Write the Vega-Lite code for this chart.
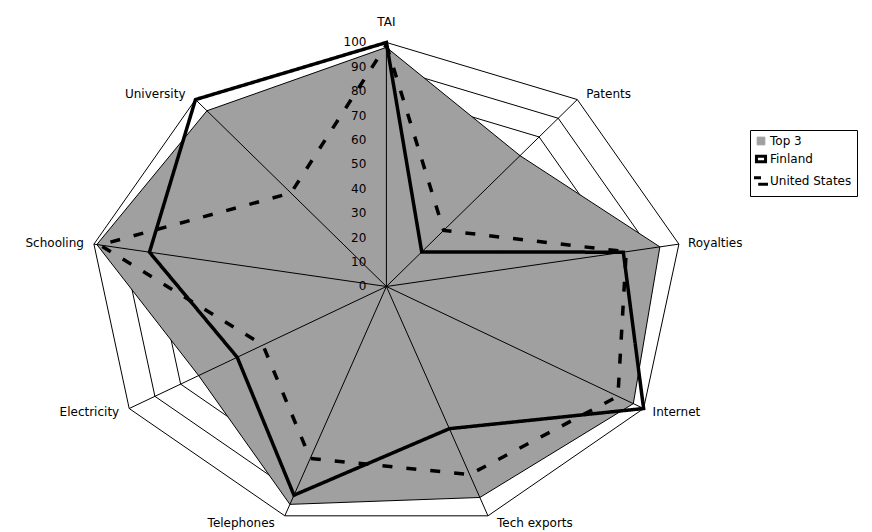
{
  "$schema": "https://vega.github.io/schema/vega-lite/v6.json",
  "width": 872,
  "height": 532,
  "autosize": "none",
  "padding": 0,
  "background": "white",
  "config": {
    "view": {"stroke": null},
    "font": "DejaVu Sans",
    "text": {"font": "DejaVu Sans", "fontSize": 12, "fill": "black"}
  },
  "datasets": {
    "scores": [
      {"series": "Top 3", "axis": "TAI", "i": 0, "value": 98},
      {"series": "Top 3", "axis": "Patents", "i": 1, "value": 70},
      {"series": "Top 3", "axis": "Royalties", "i": 2, "value": 93.5},
      {"series": "Top 3", "axis": "Internet", "i": 3, "value": 96},
      {"series": "Top 3", "axis": "Tech exports", "i": 4, "value": 92},
      {"series": "Top 3", "axis": "Telephones", "i": 5, "value": 95},
      {"series": "Top 3", "axis": "Electricity", "i": 6, "value": 73},
      {"series": "Top 3", "axis": "Schooling", "i": 7, "value": 99},
      {"series": "Top 3", "axis": "University", "i": 8, "value": 94},
      {"series": "Finland", "axis": "TAI", "i": 0, "value": 100},
      {"series": "Finland", "axis": "Patents", "i": 1, "value": 18.5},
      {"series": "Finland", "axis": "Royalties", "i": 2, "value": 81},
      {"series": "Finland", "axis": "Internet", "i": 3, "value": 100},
      {"series": "Finland", "axis": "Tech exports", "i": 4, "value": 62},
      {"series": "Finland", "axis": "Telephones", "i": 5, "value": 91},
      {"series": "Finland", "axis": "Electricity", "i": 6, "value": 58},
      {"series": "Finland", "axis": "Schooling", "i": 7, "value": 81},
      {"series": "Finland", "axis": "University", "i": 8, "value": 100},
      {"series": "United States", "axis": "TAI", "i": 0, "value": 99},
      {"series": "United States", "axis": "Patents", "i": 1, "value": 30},
      {"series": "United States", "axis": "Royalties", "i": 2, "value": 82},
      {"series": "United States", "axis": "Internet", "i": 3, "value": 90},
      {"series": "United States", "axis": "Tech exports", "i": 4, "value": 82},
      {"series": "United States", "axis": "Telephones", "i": 5, "value": 75},
      {"series": "United States", "axis": "Electricity", "i": 6, "value": 48},
      {"series": "United States", "axis": "Schooling", "i": 7, "value": 98},
      {"series": "United States", "axis": "University", "i": 8, "value": 50}
    ],
    "axes": [
      {"axis": "TAI", "i": 0, "levels": [0, 10, 20, 30, 40, 50, 60, 70, 80, 90, 100]},
      {"axis": "Patents", "i": 1, "levels": [0, 10, 20, 30, 40, 50, 60, 70, 80, 90, 100]},
      {"axis": "Royalties", "i": 2, "levels": [0, 10, 20, 30, 40, 50, 60, 70, 80, 90, 100]},
      {"axis": "Internet", "i": 3, "levels": [0, 10, 20, 30, 40, 50, 60, 70, 80, 90, 100]},
      {"axis": "Tech exports", "i": 4, "levels": [0, 10, 20, 30, 40, 50, 60, 70, 80, 90, 100]},
      {"axis": "Telephones", "i": 5, "levels": [0, 10, 20, 30, 40, 50, 60, 70, 80, 90, 100]},
      {"axis": "Electricity", "i": 6, "levels": [0, 10, 20, 30, 40, 50, 60, 70, 80, 90, 100]},
      {"axis": "Schooling", "i": 7, "levels": [0, 10, 20, 30, 40, 50, 60, 70, 80, 90, 100]},
      {"axis": "University", "i": 8, "levels": [0, 10, 20, 30, 40, 50, 60, 70, 80, 90, 100]}
    ]
  },
  "layer": [
    {
      "data": {"name": "axes"},
      "transform": [
        {"flatten": ["levels"], "as": ["level"]},
        {"filter": "datum.level > 0"},
        {"calculate": "datum.i * 2 * PI / 9", "as": "a"},
        {"calculate": "datum.level * sin(datum.a)", "as": "px"},
        {"calculate": "datum.level * cos(datum.a)", "as": "py"}
      ],
      "mark": {"type": "line", "interpolate": "linear-closed", "stroke": "black", "strokeWidth": 1},
      "encoding": {
        "x": {"field": "px", "type": "quantitative", "scale": {"domain": [-130.1, 163.5], "nice": false, "zero": false}, "axis": null},
        "y": {"field": "py", "type": "quantitative", "scale": {"domain": [-100.6, 117.4], "nice": false, "zero": false}, "axis": null},
        "detail": {"field": "level", "type": "nominal"},
        "order": {"field": "i", "type": "quantitative"}
      }
    },
    {
      "data": {"name": "scores"},
      "transform": [
        {"filter": "datum.series === 'Top 3'"},
        {"calculate": "datum.i * 2 * PI / 9", "as": "a"},
        {"calculate": "datum.value * sin(datum.a)", "as": "px"},
        {"calculate": "datum.value * cos(datum.a)", "as": "py"}
      ],
      "mark": {"type": "line", "interpolate": "linear-closed", "fill": "#a0a0a0", "stroke": "black", "strokeWidth": 1},
      "encoding": {
        "x": {"field": "px", "type": "quantitative", "axis": null},
        "y": {"field": "py", "type": "quantitative", "axis": null},
        "order": {"field": "i", "type": "quantitative"}
      }
    },
    {
      "data": {"name": "axes"},
      "transform": [
        {"calculate": "datum.i * 2 * PI / 9", "as": "a"},
        {"calculate": "0", "as": "zx"},
        {"calculate": "0", "as": "zy"},
        {"calculate": "100 * sin(datum.a)", "as": "ox"},
        {"calculate": "100 * cos(datum.a)", "as": "oy"}
      ],
      "mark": {"type": "rule", "stroke": "black", "strokeWidth": 1},
      "encoding": {
        "x": {"field": "zx", "type": "quantitative", "axis": null},
        "y": {"field": "zy", "type": "quantitative", "axis": null},
        "x2": {"field": "ox"},
        "y2": {"field": "oy"}
      }
    },
    {
      "data": {"name": "scores"},
      "transform": [
        {"filter": "datum.series !== 'Top 3'"},
        {"calculate": "datum.i * 2 * PI / 9", "as": "a"},
        {"calculate": "datum.value * sin(datum.a)", "as": "px"},
        {"calculate": "datum.value * cos(datum.a)", "as": "py"}
      ],
      "mark": {"type": "line", "interpolate": "linear-closed", "strokeWidth": 3.5, "strokeCap": "butt", "strokeJoin": "miter"},
      "encoding": {
        "x": {"field": "px", "type": "quantitative", "axis": null},
        "y": {"field": "py", "type": "quantitative", "axis": null},
        "order": {"field": "i", "type": "quantitative"},
        "color": {
          "field": "series",
          "type": "nominal",
          "scale": {"domain": ["Top 3", "Finland", "United States"], "range": ["#a0a0a0", "black", "black"]},
          "legend": {
            "title": null,
            "orient": "none",
            "legendX": 750,
            "legendY": 130,
            "padding": 5,
            "strokeColor": "black",
            "fillColor": "white",
            "symbolSize": 100,
            "symbolType": "square",
            "labelFontSize": 12,
            "labelFont": "DejaVu Sans",
            "labelColor": "black",
            "labelOffset": 3,
            "rowPadding": 3,
            "encode": {
              "symbols": {
                "update": {
                  "shape": {"signal": "datum.value === 'United States' ? 'M-1.4,-0.63H0M-0.56,0.63H1.4' : (datum.value === 'Finland' ? 'M-0.91,-0.56H0.91V0.56H-0.91Z' : 'M-0.77,-0.77H0.77V0.77H-0.77Z')"},
                  "fill": {"signal": "datum.value === 'Top 3' ? '#a0a0a0' : (datum.value === 'Finland' ? 'white' : 'transparent')"},
                  "stroke": {"value": "black"},
                  "strokeWidth": {"signal": "datum.value === 'Top 3' ? 1 : 3"},
                  "size": {"value": 100},
                  "opacity": {"value": 1}
                }
              }
            }
          }
        },
        "strokeDash": {
          "field": "series",
          "type": "nominal",
          "scale": {"domain": ["Finland", "United States"], "range": [[1, 0], [10, 14]]},
          "legend": null
        }
      }
    },
    {
      "data": {"name": "axes"},
      "transform": [
        {"filter": "datum.i === 0"},
        {"flatten": ["levels"], "as": ["level"]},
        {"calculate": "0", "as": "zx"}
      ],
      "mark": {"type": "text", "align": "right", "baseline": "middle", "dx": -20},
      "encoding": {
        "x": {"field": "zx", "type": "quantitative"},
        "y": {"field": "level", "type": "quantitative"},
        "text": {"field": "level", "type": "quantitative"}
      }
    },
    {
      "data": {"name": "axes"},
      "transform": [
        {"filter": "datum.i === 0"},
        {"calculate": "0", "as": "zx"},
        {"calculate": "100", "as": "ty"}
      ],
      "mark": {"type": "text", "align": "center", "baseline": "middle", "dy": -20},
      "encoding": {
        "x": {"field": "zx", "type": "quantitative"},
        "y": {"field": "ty", "type": "quantitative"},
        "text": {"field": "axis", "type": "nominal"}
      }
    },
    {
      "data": {"name": "axes"},
      "transform": [
        {"filter": "datum.i >= 1 && datum.i <= 4"},
        {"calculate": "datum.i * 2 * PI / 9", "as": "a"},
        {"calculate": "100 * sin(datum.a)", "as": "lx"},
        {"calculate": "103 * cos(datum.a)", "as": "ly"}
      ],
      "mark": {"type": "text", "align": "left", "baseline": "middle", "dx": 9},
      "encoding": {
        "x": {"field": "lx", "type": "quantitative"},
        "y": {"field": "ly", "type": "quantitative"},
        "text": {"field": "axis", "type": "nominal"}
      }
    },
    {
      "data": {"name": "axes"},
      "transform": [
        {"filter": "datum.i >= 5"},
        {"calculate": "datum.i * 2 * PI / 9", "as": "a"},
        {"calculate": "100 * sin(datum.a)", "as": "lx"},
        {"calculate": "103 * cos(datum.a)", "as": "ly"}
      ],
      "mark": {"type": "text", "align": "right", "baseline": "middle", "dx": -10},
      "encoding": {
        "x": {"field": "lx", "type": "quantitative"},
        "y": {"field": "ly", "type": "quantitative"},
        "text": {"field": "axis", "type": "nominal"}
      }
    }
  ]
}
